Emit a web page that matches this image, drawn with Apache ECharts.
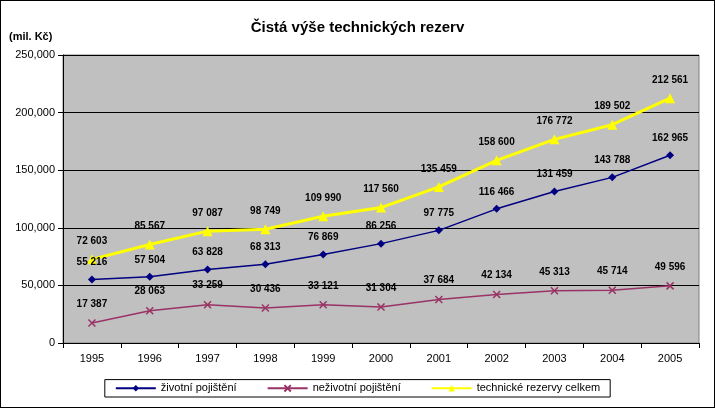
<!DOCTYPE html>
<html lang="en">
<head>
    <meta charset="UTF-8">
    <title>echarts</title>
    <style>
        html, body { margin: 0; padding: 0; background: #fff; }
        #chart { width: 713px; height: 406px; border: 1px solid #000; }
    </style>
</head>
<body>
<div id="chart"></div>
<script src="https://cdn.jsdelivr.net/npm/echarts@6/dist/echarts.min.js"></script>
<script type="text/javascript">
    var years = ['1995','1996','1997','1998','1999','2000','2001','2002','2003','2004','2005'];
    var zivotni = [55216, 57504, 63828, 68313, 76869, 86256, 97775, 116466, 131459, 143788, 162965];
    var nezivotni = [17387, 28063, 33259, 30436, 33121, 31304, 37684, 42134, 45313, 45714, 49596];
    var celkem = [72603, 85567, 97087, 98749, 109990, 117560, 135459, 158600, 176772, 189502, 212561];

    // číslo s mezerou jako oddělovačem tisíců
    function fmt(v) {
        return String(v).replace(/\B(?=(\d{3})+(?!\d))/g, ' ');
    }

    var labelStyle = {
        show: true,
        position: 'top',
        distance: 8,
        color: '#000',
        fontFamily: 'Liberation Sans',
        fontSize: 10,
        fontWeight: 'bold',
        formatter: function (p) { return fmt(p.value); }
    };

    var crossPath = 'path://M0,0L1,1M1,0L0,1';

    var option = {
        animation: false,
        title: {
            text: 'Čistá výše technických rezerv',
            left: 'center',
            top: 14,
            textStyle: { fontFamily: 'Liberation Sans', fontSize: 15, fontWeight: 'bold', color: '#000' }
        },
        graphic: [{
            type: 'text', left: 8, top: 30,
            style: { text: '(mil. Kč)', font: 'bold 11px "Liberation Sans"', fill: '#000' }
        }],
        grid: {
            left: 62, right: 15, top: 54, bottom: 64,
            show: true, backgroundColor: '#C0C0C0', borderColor: '#808080', borderWidth: 1
        },
        legend: {
            bottom: 10,
            left: 'center',
            itemGap: 30,
            itemWidth: 40,
            itemHeight: 8,
            padding: [3, 10],
            borderColor: '#000',
            borderWidth: 1,
            textStyle: { fontFamily: 'Liberation Sans', fontSize: 11, color: '#000' },
            data: ['životní pojištění', 'neživotní pojištění', 'technické rezervy celkem']
        },
        xAxis: {
            type: 'category',
            data: years,
            boundaryGap: true,
            axisLine: { lineStyle: { color: '#000' } },
            axisTick: { show: true, alignWithLabel: false, lineStyle: { color: '#000' } },
            axisLabel: { color: '#000', fontFamily: 'Liberation Sans', fontSize: 11, margin: 10 }
        },
        yAxis: {
            type: 'value',
            min: 0, max: 250000, interval: 50000,
            axisLine: { show: true, lineStyle: { color: '#000' } },
            axisTick: { show: true, lineStyle: { color: '#000' } },
            axisLabel: { color: '#000', fontFamily: 'Liberation Sans', fontSize: 11 },
            splitLine: { lineStyle: { color: '#000', width: 1 } }
        },
        series: [{
            name: 'životní pojištění',
            type: 'line',
            data: zivotni,
            symbol: 'diamond',
            symbolSize: 8,
            color: '#000080',
            lineStyle: { width: 1.5, color: '#000080' },
            label: labelStyle
        }, {
            name: 'neživotní pojištění',
            type: 'line',
            data: nezivotni,
            symbol: crossPath,
            symbolSize: 7,
            color: '#993366',
            itemStyle: { color: 'none', borderColor: '#993366', borderWidth: 1.5 },
            lineStyle: { width: 1.5, color: '#993366' },
            label: labelStyle
        }, {
            name: 'technické rezervy celkem',
            type: 'line',
            data: celkem,
            symbol: 'triangle',
            symbolSize: 10,
            color: '#FFFF00',
            lineStyle: { width: 3, color: '#FFFF00' },
            label: labelStyle
        }]
    };

    var echart = echarts.init(document.getElementById('chart'));
    echart.setOption(option);
</script>
</body>
</html>
